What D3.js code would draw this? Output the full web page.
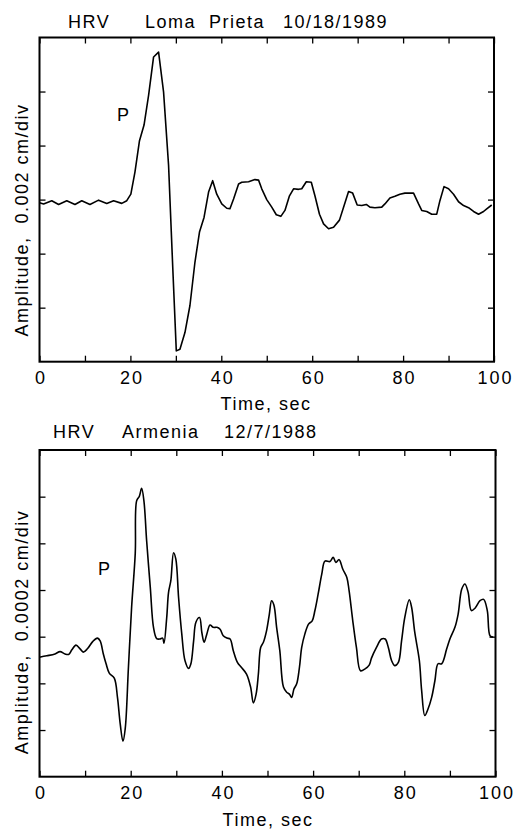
<!DOCTYPE html>
<html>
<head>
<meta charset="utf-8">
<script src="https://cdn.jsdelivr.net/npm/d3@7"></script>
<style>
  body { margin: 0; background: #fff; }
  svg text { font-family: "Liberation Sans", Arial, sans-serif; fill: #000; }
</style>
</head>
<body>
<div id="chart"></div>
<script>
const width = 514;
const height = 831;

// time axis (sec) shared by both traces
const timeTicks = [0, 10, 20, 30, 40, 50, 60, 70, 80, 90, 100];
const timeLabels = [0, 20, 40, 60, 80, 100];

// Loma Prieta trace, amplitude in divisions (0.002 cm/div)
const lomaTime = [0, 0.9, 2.7, 4.2, 6.0, 7.8, 9.3, 11.1, 13.0, 14.8, 16.3, 18.1, 19.2, 20.1, 21.0, 22.0, 23.0, 24.0, 25.1, 26.2, 27.3, 28.4, 29.3, 30.1, 30.9, 32.0, 33.1, 34.2, 35.2, 36.2, 37.2, 38.1, 39.0, 40.1, 41.2, 41.9, 42.7, 43.8, 44.5, 46.0, 47.4, 48.2, 48.9, 50.0, 51.1, 52.1, 53.1, 54.0, 55.0, 55.9, 57.0, 57.7, 58.7, 59.8, 60.6, 61.6, 62.5, 63.6, 64.7, 66.0, 66.9, 68.0, 68.9, 69.9, 70.9, 71.9, 72.7, 73.8, 75.3, 76.0, 77.1, 78.2, 79.3, 80.4, 82.3, 83.4, 84.1, 85.2, 86.3, 87.4, 88.1, 89.0, 90.0, 91.1, 92.2, 93.3, 94.4, 95.5, 96.6, 97.7, 98.4, 99.5];
const lomaAmp = [-0.06, -0.08, -0.02, -0.09, -0.02, -0.09, -0.02, -0.09, -0.01, -0.07, -0.02, -0.07, -0.02, 0.10, 0.51, 1.09, 1.38, 1.93, 2.64, 2.73, 1.99, 0.63, -1.22, -2.80, -2.77, -2.46, -1.96, -1.16, -0.60, -0.33, 0.14, 0.35, 0.10, -0.08, -0.16, -0.17, 0.01, 0.29, 0.32, 0.33, 0.37, 0.36, 0.20, 0.00, -0.14, -0.28, -0.31, -0.20, 0.07, 0.20, 0.19, 0.20, 0.33, 0.32, 0.07, -0.27, -0.45, -0.54, -0.51, -0.38, -0.14, 0.15, 0.12, -0.10, -0.11, -0.09, -0.14, -0.15, -0.14, -0.08, 0.03, 0.06, 0.10, 0.12, 0.12, -0.08, -0.20, -0.22, -0.27, -0.27, -0.02, 0.24, 0.20, 0.10, -0.04, -0.11, -0.15, -0.22, -0.27, -0.22, -0.17, -0.10];

// Armenia trace, amplitude in divisions (0.0002 cm/div)
const armTime = [0, 1.6, 3.4, 4.5, 5.6, 6.4, 7.1, 8.0, 8.9, 9.6, 10.5, 11.7, 12.7, 13.3, 14.0, 14.6, 15.3, 16.4, 17.1, 17.7, 18.3, 18.8, 19.5, 20.2, 21.0, 21.3, 21.9, 22.4, 22.9, 23.5, 24.3, 25.0, 25.7, 26.4, 27.0, 27.3, 27.9, 28.3, 28.8, 29.4, 29.9, 30.5, 31.2, 31.9, 32.7, 33.2, 33.8, 34.3, 35.1, 35.6, 36.1, 36.7, 37.4, 38.1, 38.9, 39.6, 40.3, 41.1, 41.8, 42.5, 43.4, 44.3, 45.4, 46.3, 46.9, 47.5, 48.0, 48.5, 49.1, 49.8, 50.4, 50.9, 51.4, 52.0, 52.7, 53.5, 54.2, 54.8, 55.3, 55.8, 56.4, 57.0, 57.5, 58.2, 59.0, 59.8, 60.4, 61.1, 61.9, 62.6, 63.7, 64.4, 65.0, 65.7, 66.5, 67.4, 67.9, 68.7, 69.5, 70.4, 71.4, 72.3, 72.8, 73.9, 75.0, 75.8, 76.5, 77.2, 77.9, 78.7, 79.4, 80.1, 81.1, 81.6, 82.3, 83.3, 83.8, 84.5, 85.2, 86.0, 86.7, 87.4, 88.2, 89.3, 90.0, 91.1, 91.8, 92.6, 93.3, 94.0, 94.7, 95.5, 96.6, 97.4, 98.2, 98.8, 99.5];
const armAmp = [-0.44, -0.41, -0.37, -0.32, -0.37, -0.38, -0.28, -0.18, -0.26, -0.33, -0.26, -0.10, -0.03, -0.09, -0.37, -0.58, -0.78, -0.89, -1.30, -1.87, -2.24, -1.97, -0.66, 0.63, 1.79, 2.91, 3.01, 3.18, 2.91, 2.05, 1.05, 0.20, -0.04, -0.05, -0.03, -0.14, 0.41, 0.95, 1.20, 1.80, 1.66, 0.84, 0.06, -0.51, -0.68, -0.58, -0.09, 0.31, 0.41, 0.09, -0.12, 0.06, 0.25, 0.20, 0.20, 0.16, 0.02, -0.03, -0.05, -0.30, -0.55, -0.66, -0.80, -1.08, -1.42, -1.23, -0.80, -0.23, -0.12, 0.13, 0.48, 0.77, 0.68, 0.20, -0.30, -1.08, -1.19, -1.23, -1.30, -1.12, -1.01, -0.66, -0.23, 0.06, 0.27, 0.34, 0.56, 0.91, 1.34, 1.62, 1.61, 1.70, 1.59, 1.65, 1.45, 1.27, 0.98, 0.34, -0.23, -0.73, -0.69, -0.61, -0.46, -0.23, -0.05, -0.05, -0.23, -0.51, -0.62, -0.55, -0.09, 0.41, 0.79, 0.63, 0.09, -0.51, -1.15, -1.69, -1.55, -1.30, -0.95, -0.58, -0.58, -0.26, -0.05, 0.20, 0.48, 1.02, 1.13, 0.95, 0.56, 0.61, 0.77, 0.80, 0.56, 0.02, -0.01];

const lomaDivTicks = [-2, -1, 0, 1, 2];
const armDivTicks = [-2, -1, 0, 1, 2, 3];

const svg = d3.select('#chart')
  .append('svg')
  .attr('width', width)
  .attr('height', height);

function drawPanel(opts) {
  const { left, right, top, bottom, yDomain, yTicks, times, amps, curve } = opts;

  const x = d3.scaleLinear().domain([0, 100]).range([left, right]);
  const y = d3.scaleLinear().domain(yDomain).range([bottom, top]);

  const g = svg.append('g');

  const clipId = 'clip' + Math.round(top);
  g.append('clipPath').attr('id', clipId)
    .append('rect')
    .attr('x', left).attr('y', top)
    .attr('width', right - left).attr('height', bottom - top);

  // inward ticks on all four sides
  const axes = [
    { ax: d3.axisBottom(x).tickValues(timeTicks), tr: `translate(0,${bottom})`, labels: true },
    { ax: d3.axisTop(x).tickValues(timeTicks), tr: `translate(0,${top})` },
    { ax: d3.axisLeft(y).tickValues(yTicks), tr: `translate(${left},0)` },
    { ax: d3.axisRight(y).tickValues(yTicks), tr: `translate(${right},0)` }
  ];
  axes.forEach(a => {
    a.ax.tickSize(-6).tickPadding(10)
      .tickFormat(d => (a.labels && timeLabels.includes(d)) ? d : '');
    const ag = g.append('g').attr('transform', a.tr).call(a.ax);
    ag.select('.domain').remove();
    ag.selectAll('line').attr('stroke', '#000').attr('stroke-width', 1.3);
    ag.selectAll('text')
      .style('font-family', '"Liberation Sans", Arial, sans-serif')
      .style('font-size', '18px')
      .style('letter-spacing', '2px')
      .attr('dx', '1px')
      .attr('fill', '#000');
  });

  g.append('rect')
    .attr('x', left).attr('y', top)
    .attr('width', right - left).attr('height', bottom - top)
    .attr('fill', 'none')
    .attr('stroke', '#000')
    .attr('stroke-width', 2);

  const line = d3.line()
    .x((d, i) => x(times[i]))
    .y(d => y(d))
    .curve(curve);

  g.append('path')
    .datum(amps)
    .attr('clip-path', `url(#${clipId})`)
    .attr('d', line)
    .attr('fill', 'none')
    .attr('stroke', '#000')
    .attr('stroke-width', 1.6)
    .attr('stroke-linejoin', 'round');

  return { x, y };
}

// top panel: Loma Prieta
drawPanel({
  left: 39.5, right: 494, top: 37.5, bottom: 361.7,
  yDomain: [-3, 3], yTicks: lomaDivTicks,
  times: lomaTime, amps: lomaAmp, curve: d3.curveLinear
});

// bottom panel: Armenia
drawPanel({
  left: 39.5, right: 495.5, top: 450, bottom: 776.7,
  yDomain: [-3, 4], yTicks: armDivTicks,
  times: armTime, amps: armAmp, curve: d3.curveCatmullRom.alpha(0.5)
});

const txt = (x, y, s, size, ls) => svg.append('text')
  .attr('x', x).attr('y', y)
  .style('font-size', size + 'px')
  .style('letter-spacing', ls + 'px')
  .text(s);

// titles
txt(68, 28, 'HRV', 18, 1.5);
txt(145, 28, 'Loma  Prieta', 18, 1.5).attr('xml:space', 'preserve');
txt(283, 28, '10/18/1989', 18, 1.5);

txt(53, 438, 'HRV', 18, 1.5);
txt(122, 438, 'Armenia', 18, 1.5);
txt(224, 438, '12/7/1988', 18, 1.5);

// phase labels
txt(117, 121, 'P', 18, 0);
txt(98, 575, 'P', 18, 0);

// x axis titles
txt(266, 410, 'Time, sec', 18, 1.5).attr('text-anchor', 'middle');
txt(268, 826, 'Time, sec', 18, 1.5).attr('text-anchor', 'middle');

// y axis titles
txt(0, 0, 'Amplitude,  0.002 cm/div', 18, 1.5)
  .attr('xml:space', 'preserve')
  .attr('text-anchor', 'middle')
  .attr('transform', 'translate(28,220) rotate(-90)');
txt(0, 0, 'Amplitude,  0.0002 cm/div', 18, 1.5)
  .attr('xml:space', 'preserve')
  .attr('text-anchor', 'middle')
  .attr('transform', 'translate(28,632) rotate(-90)');
</script>
</body>
</html>
